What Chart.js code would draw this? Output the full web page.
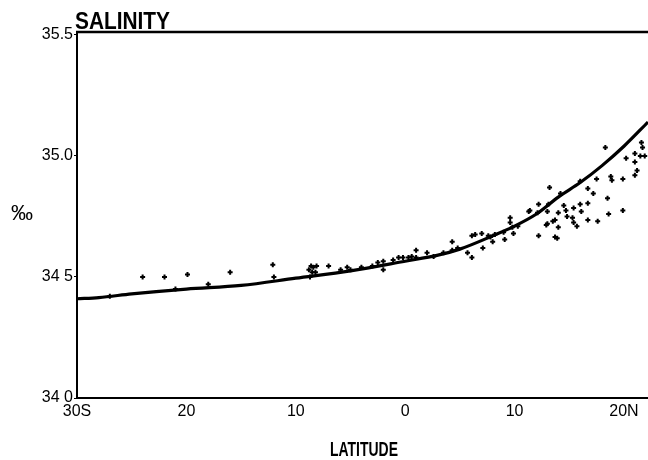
<!DOCTYPE html>
<html>
<head>
<meta charset="utf-8">
<script src="https://cdn.jsdelivr.net/npm/chart.js@4/dist/chart.umd.min.js"></script>
<style>
  html, body { margin: 0; padding: 0; background: #fff; }
  canvas { display: block; }
</style>
</head>
<body>
<canvas id="salinityChart" width="648" height="460"></canvas>
<script>
// Salinity (per mille) against latitude: smoothed mean curve plus station observations

const X_TICKS = [-30, -20, -10, 0, 10, 20];
const X_LABELS = ['30S', '20', '10', '0', '10', '20N'];
const Y_TICKS = [34.0, 34.5, 35.0, 35.5];
const Y_LABELS = ['34 0', '34 5', '35.0', '35.5'];

// mean curve
const CURVE_LAT = [-30, -28, -25, -20, -15, -10, -5, 0, 3, 5, 8, 10, 12, 14, 16, 18, 20, 22.2];
const CURVE_SAL = [34.41, 34.415, 34.43, 34.45, 34.465, 34.495, 34.525, 34.565, 34.59, 34.615,
                   34.67, 34.71, 34.76, 34.83, 34.89, 34.96, 35.04, 35.14];

// observations
const OBS_LAT = [-27.0, -24.0, -22.0, -21.0, -19.9, -18.0, -16.0, -12.1, -12.0,
  -8.8, -8.7, -8.6, -8.5, -8.4, -8.2, -8.1, -7.0, -5.9, -5.3, -5.0, -4.0, -3.0, -2.5, -2.0, -2.0,
  -1.1, -0.6, -0.2, 0.3, 0.6, 1.0, 1.0, 2.0, 2.6, 3.5, 4.3, 4.3, 4.8, 5.7, 6.1, 6.1, 6.4,
  7.0, 7.1, 7.6, 7.8, 8.0, 8.2, 9.0, 9.1, 9.6, 9.6, 9.8, 9.9, 10.3, 11.3, 11.4, 12.1, 12.2, 12.2,
  12.9, 13.0, 13.0, 13.1, 13.2, 13.5, 13.7, 13.7, 13.9, 14.0, 14.0, 14.2, 14.5, 14.7, 14.8,
  15.3, 15.4, 15.4, 15.7, 16.0, 16.0, 16.1, 16.7, 16.7, 16.7, 17.2, 17.5, 17.6, 18.3, 18.5,
  18.6, 18.8, 18.9, 19.9, 19.9, 20.2, 21.0, 21.0, 21.0, 21.2, 21.5, 21.6, 21.7, 21.9];
const OBS_SAL = [34.42, 34.50, 34.50, 34.45, 34.51, 34.47, 34.52, 34.55, 34.50,
  34.53, 34.50, 34.545, 34.52, 34.54, 34.52, 34.545, 34.545, 34.53, 34.54, 34.53, 34.54, 34.545, 34.56, 34.565, 34.53,
  34.57, 34.58, 34.58, 34.58, 34.585, 34.61, 34.58, 34.60, 34.585, 34.60, 34.645, 34.61, 34.62, 34.60, 34.58, 34.67, 34.675,
  34.68, 34.62, 34.67, 34.665, 34.645, 34.675, 34.685, 34.655, 34.745, 34.725, 34.705, 34.68, 34.71, 34.77, 34.775, 34.765, 34.80, 34.67,
  34.715, 34.77, 34.72, 34.80, 34.87, 34.73, 34.735, 34.665, 34.66, 34.765, 34.705, 34.845, 34.795, 34.775, 34.75,
  34.745, 34.785, 34.725, 34.71, 34.895, 34.80, 34.77, 34.865, 34.805, 34.735, 34.845, 34.905, 34.73, 35.035, 34.825,
  34.76, 34.915, 34.90, 34.905, 34.775, 34.99, 35.01, 34.975, 34.92, 34.94, 35.00, 35.055, 35.035, 35.00];

const FONT = '"Liberation Sans", Arial, sans-serif';

// draws text squeezed horizontally to a given width (left aligned at x)
function fitText(ctx, text, x, y, width) {
  const w = ctx.measureText(text).width;
  ctx.save();
  ctx.translate(x, y);
  ctx.scale(Math.min(1, width / w), 1);
  ctx.fillText(text, 0, 0);
  ctx.restore();
}

// title, axis captions and top frame line
const decorations = {
  id: 'decorations',
  afterDraw(chart) {
    const { ctx, chartArea } = chart;
    ctx.save();
    ctx.fillStyle = '#000';
    ctx.strokeStyle = '#000';

    ctx.lineWidth = 2.5;
    ctx.beginPath();
    ctx.moveTo(chartArea.left - 1, chartArea.top);
    ctx.lineTo(chart.width, chartArea.top);
    ctx.stroke();

    ctx.textAlign = 'left';
    ctx.textBaseline = 'alphabetic';
    ctx.font = 'bold 24px ' + FONT;
    fitText(ctx, 'SALINITY', 75, 29, 95);

    ctx.font = 'bold 20px ' + FONT;
    fitText(ctx, 'LATITUDE', 330, 456, 68);

    ctx.font = '22px ' + FONT;
    ctx.textAlign = 'center';
    ctx.textBaseline = 'middle';
    ctx.fillText('‰', 22, 214);
    ctx.restore();
  },
};

new Chart(document.getElementById('salinityChart'), {
  type: 'scatter',
  data: {
    datasets: [
      {
        type: 'line',
        data: CURVE_LAT.map((x, i) => ({ x, y: CURVE_SAL[i] })),
        borderColor: '#000',
        borderWidth: 3.2,
        pointRadius: 0,
        fill: false,
        cubicInterpolationMode: 'monotone',
      },
      {
        data: OBS_LAT.map((x, i) => ({ x, y: OBS_SAL[i] })),
        pointStyle: 'cross',
        pointRadius: 2.5,
        borderWidth: 2,
        borderColor: '#000',
        backgroundColor: '#000',
      },
    ],
  },
  options: {
    responsive: false,
    animation: false,
    layout: { autoPadding: false, padding: { top: 32, left: 0, right: 0, bottom: 0 } },
    plugins: {
      legend: { display: false },
      tooltip: { enabled: false },
    },
    scales: {
      x: {
        type: 'linear',
        min: -30,
        max: 22.2,
        afterFit: s => { s.height = 62; },
        afterBuildTicks: s => { s.ticks = X_TICKS.map(value => ({ value })); },
        border: { color: '#000', width: 2 },
        grid: { display: false, drawTicks: false },
        ticks: {
          color: '#000',
          font: { family: FONT, size: 16 },
          padding: 4,
          maxRotation: 0,
          callback: v => X_LABELS[X_TICKS.indexOf(v)],
        },
      },
      y: {
        min: 34.0,
        max: 35.512,
        afterFit: s => { s.width = 77; },
        afterBuildTicks: s => { s.ticks = Y_TICKS.map(value => ({ value })); },
        border: { color: '#000', width: 2 },
        grid: { drawOnChartArea: false, drawTicks: true, tickLength: 3, color: '#000' },
        ticks: {
          color: '#000',
          font: { family: FONT, size: 16 },
          padding: 1,
          callback: v => Y_LABELS[Y_TICKS.indexOf(v)],
        },
      },
    },
  },
  plugins: [decorations],
});
</script>
</body>
</html>
